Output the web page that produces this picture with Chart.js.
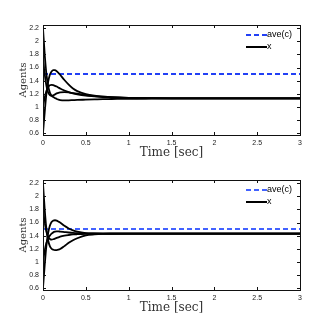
<!DOCTYPE html>
<html>
<head>
<meta charset="utf-8">
<script src="https://cdn.jsdelivr.net/npm/chart.js@4/dist/chart.umd.min.js"></script>
<style>
  html, body { margin: 0; padding: 0; background: #fff; }
  body { width: 331px; height: 328px; position: relative; overflow: hidden; }
  canvas { position: absolute; left: 0; }
  #c1 { top: 0; }
  #c2 { top: 155px; }
</style>
</head>
<body>
<canvas id="c1" width="331" height="164"></canvas>
<canvas id="c2" width="331" height="164"></canvas>
<script>
// time samples (sec)
const time = [0, 0.02, 0.04, 0.06, 0.08, 0.1, 0.12, 0.14, 0.16, 0.18, 0.2, 0.25, 0.3, 0.35, 0.4, 0.5, 0.6, 0.7, 0.8, 1.0, 1.2, 1.5, 2, 2.5, 3];

// top plot agents
const topAgent1 = [2.2, 1.8, 1.5, 1.32, 1.22, 1.17, 1.15, 1.135, 1.12, 1.11, 1.103, 1.098, 1.1, 1.103, 1.106, 1.11, 1.114, 1.118, 1.12, 1.124, 1.127, 1.13, 1.13, 1.13, 1.13];
const topAgent2 = [0.6, 0.92, 1.2, 1.38, 1.49, 1.54, 1.56, 1.56, 1.545, 1.52, 1.49, 1.41, 1.34, 1.28, 1.24, 1.195, 1.17, 1.155, 1.145, 1.135, 1.131, 1.13, 1.13, 1.13, 1.13];
const topAgent3 = [1.0, 1.14, 1.24, 1.3, 1.33, 1.335, 1.33, 1.32, 1.31, 1.295, 1.28, 1.25, 1.225, 1.205, 1.19, 1.17, 1.16, 1.15, 1.143, 1.135, 1.131, 1.13, 1.13, 1.13, 1.13];
const topAgent4 = [1.75, 1.5, 1.32, 1.22, 1.18, 1.17, 1.175, 1.19, 1.205, 1.215, 1.22, 1.225, 1.22, 1.21, 1.2, 1.18, 1.165, 1.155, 1.147, 1.137, 1.132, 1.13, 1.13, 1.13, 1.13];

// bottom plot agents
const botAgent1 = [2.2, 1.8, 1.5, 1.33, 1.24, 1.2, 1.185, 1.18, 1.18, 1.185, 1.195, 1.24, 1.29, 1.33, 1.36, 1.405, 1.42, 1.427, 1.429, 1.43, 1.43, 1.43, 1.43, 1.43, 1.43];
const botAgent2 = [0.6, 0.95, 1.25, 1.44, 1.55, 1.61, 1.63, 1.635, 1.63, 1.615, 1.6, 1.55, 1.51, 1.48, 1.46, 1.44, 1.435, 1.432, 1.431, 1.43, 1.43, 1.43, 1.43, 1.43, 1.43];
const botAgent3 = [1.0, 1.17, 1.29, 1.36, 1.4, 1.43, 1.45, 1.46, 1.465, 1.465, 1.462, 1.455, 1.448, 1.442, 1.438, 1.434, 1.432, 1.431, 1.43, 1.43, 1.43, 1.43, 1.43, 1.43, 1.43];
const botAgent4 = [1.8, 1.6, 1.46, 1.38, 1.35, 1.34, 1.345, 1.355, 1.365, 1.375, 1.385, 1.4, 1.41, 1.418, 1.422, 1.427, 1.429, 1.43, 1.43, 1.43, 1.43, 1.43, 1.43, 1.43, 1.43];

// average of c (dashed line)
const aveTime = [0, 3];
const topAve = [1.5, 1.5];
const botAve = [1.5, 1.5];

// tick labels
const xTicks = [0, 0.5, 1, 1.5, 2, 2.5, 3];
const yTicks = [0.6, 0.8, 1, 1.2, 1.4, 1.6, 1.8, 2, 2.2];

function pts(xs, ys) {
    return xs.map((x, i) => ({ x: x, y: ys[i] }));
}

// box + inward ticks on all sides + legend, matlab style
const boxPlugin = {
    id: 'boxPlugin',
    afterDatasetsDraw(chart, args, opts) {
        const ctx = chart.ctx;
        const a = chart.chartArea;
        const xs = chart.scales.x, ys = chart.scales.y;
        ctx.save();
        ctx.strokeStyle = '#111';
        ctx.lineWidth = 1;
        ctx.strokeRect(Math.round(a.left) + 0.5, Math.round(a.top) + 0.5, Math.round(a.right - a.left), Math.round(a.bottom - a.top));
        ctx.beginPath();
        xTicks.forEach(v => {
            const px = Math.round(xs.getPixelForValue(v)) + 0.5;
            ctx.moveTo(px, a.bottom); ctx.lineTo(px, a.bottom - 3);
            ctx.moveTo(px, a.top); ctx.lineTo(px, a.top + 3);
        });
        yTicks.forEach(v => {
            const py = Math.round(ys.getPixelForValue(v)) + 0.5;
            ctx.moveTo(a.left, py); ctx.lineTo(a.left + 3, py);
            ctx.moveTo(a.right, py); ctx.lineTo(a.right - 3, py);
        });
        ctx.stroke();

        // legend
        const lx = a.right - 54, ly = a.top + 10;
        ctx.lineWidth = 2;
        ctx.strokeStyle = opts.blue;
        ctx.setLineDash([5, 3]);
        ctx.beginPath(); ctx.moveTo(lx, ly); ctx.lineTo(lx + 21, ly); ctx.stroke();
        ctx.setLineDash([]);
        ctx.strokeStyle = '#000';
        ctx.beginPath(); ctx.moveTo(lx, ly + 12); ctx.lineTo(lx + 21, ly + 12); ctx.stroke();
        ctx.fillStyle = '#000';
        ctx.font = '9px "Liberation Sans", Arial, sans-serif';
        ctx.textBaseline = 'middle';
        ctx.fillText('ave(c)', lx + 21, ly);
        ctx.fillText('x', lx + 21, ly + 12);
        ctx.restore();
    }
};

function makeChart(id, agents, ave, blue) {
    const agentSets = agents.map(arr => ({
        label: 'x',
        data: pts(time, arr),
        borderColor: '#000',
        borderWidth: 1.8,
        pointRadius: 0,
        fill: false,
        cubicInterpolationMode: 'monotone'
    }));
    const aveSet = {
        label: 'ave(c)',
        data: pts(aveTime, ave),
        borderColor: blue,
        borderWidth: 2,
        borderDash: [5, 3],
        pointRadius: 0,
        fill: false
    };
    return new Chart(document.getElementById(id).getContext('2d'), {
        type: 'line',
        data: { datasets: agentSets.concat([aveSet]) },
        options: {
            responsive: false,
            animation: false,
            layout: { padding: { left: 0, right: 31, top: 25, bottom: 0 } },
            plugins: {
                legend: { display: false },
                tooltip: { enabled: false },
                boxPlugin: { blue: blue }
            },
            scales: {
                x: {
                    type: 'linear',
                    min: 0, max: 3,
                    afterBuildTicks: s => { s.ticks = xTicks.map(v => ({ value: v })); },
                    afterFit: s => { s.height = 29; },
                    grid: { display: false, drawTicks: false },
                    border: { display: false },
                    ticks: {
                        font: { size: 7, family: '"Liberation Sans", Arial, sans-serif' },
                        color: '#222',
                        padding: 4,
                        maxRotation: 0,
                        callback: v => String(v)
                    },
                    title: {
                        display: true,
                        text: 'Time [sec]',
                        font: { size: 12, family: '"DejaVu Serif", "Liberation Serif", serif' },
                        color: '#333',
                        padding: { top: 0, bottom: 4 }
                    }
                },
                y: {
                    min: 0.57, max: 2.25,
                    afterBuildTicks: s => { s.ticks = yTicks.map(v => ({ value: v })); },
                    afterFit: s => { s.width = 43; },
                    grid: { display: false, drawTicks: false },
                    border: { display: false },
                    ticks: {
                        font: { size: 7, family: '"Liberation Sans", Arial, sans-serif' },
                        color: '#222',
                        padding: 4,
                        callback: v => String(Math.round(v * 10) / 10)
                    },
                    title: {
                        display: true,
                        text: 'Agents',
                        font: { size: 10, family: '"DejaVu Serif", "Liberation Serif", serif' },
                        color: '#333',
                        padding: { top: 17, bottom: 0 }
                    }
                }
            }
        },
        plugins: [boxPlugin]
    });
}

makeChart('c1', [topAgent1, topAgent2, topAgent3, topAgent4], topAve, '#2240f5');
makeChart('c2', [botAgent1, botAgent2, botAgent3, botAgent4], botAve, '#4262ff');
</script>
</body>
</html>
